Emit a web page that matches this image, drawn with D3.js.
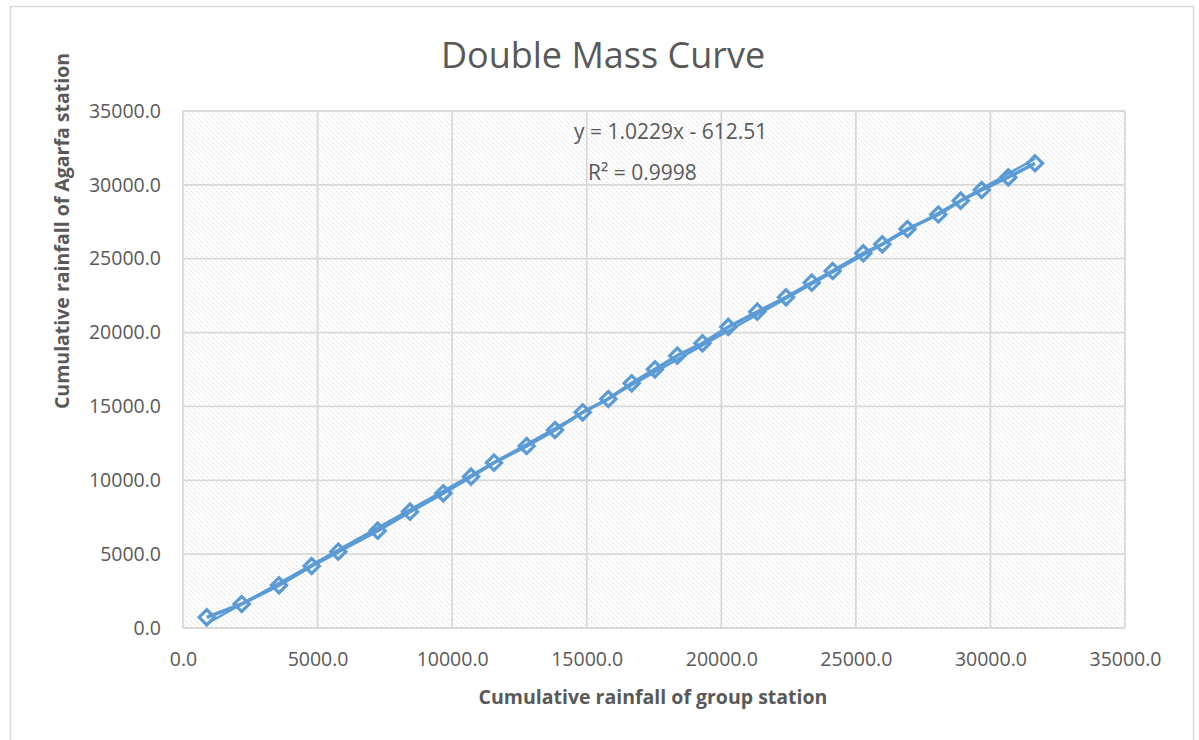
<!DOCTYPE html>
<html>
<head>
<meta charset="utf-8">
<script src="https://cdn.jsdelivr.net/npm/d3@7"></script>
<style>
  body { margin: 0; background: #fff; }
  text { font-family: "Open Sans", "Noto Sans", sans-serif; fill: #595959; }
</style>
</head>
<body>
<svg id="chart" width="1199" height="740"></svg>
<script>
// cumulative rainfall
var groupStation = [881, 2181, 3567, 4782, 5770, 7234, 8434, 9672, 10701, 11555,
  12770, 13822, 14851, 15802, 16672, 17537, 18366, 19302, 20261, 21339,
  22405, 23360, 24140, 25277, 25983, 26919, 28064, 28896, 29676, 30664, 31656];
var agarfa = [724, 1625, 2891, 4197, 5166, 6587, 7874, 9119, 10243, 11191,
  12322, 13405, 14603, 15503, 16566, 17514, 18435, 19274, 20380, 21414,
  22389, 23377, 24169, 25368, 25977, 27012, 27994, 28929, 29653, 30513, 31461];
var tickValues = [0, 5000, 10000, 15000, 20000, 25000, 30000, 35000];
var trend = { slope: 1.0229, intercept: -612.51, r2: 0.9998 };

var svg = d3.select("#chart");
var fmt = d3.format(".1f");

var plotL = 183, plotR = 1125, plotT = 111, plotB = 628;
var x = d3.scaleLinear().domain([0, 35000]).range([plotL, plotR]);
var y = d3.scaleLinear().domain([0, 35000]).range([plotB, plotT]);

// outer chart border
svg.append("rect")
  .attr("x", 10.5).attr("y", 6.5).attr("width", 1183).attr("height", 745)
  .attr("fill", "#fff").attr("stroke", "#d9d9d9").attr("stroke-width", 1.5);

// hatch fill for the plot area
var pat = svg.append("defs").append("pattern")
  .attr("id", "hatch").attr("patternUnits", "userSpaceOnUse")
  .attr("width", 5).attr("height", 5);
pat.append("rect").attr("width", 5).attr("height", 5).attr("fill", "#fff");
pat.append("path")
  .attr("d", "M-1,-1 L6,6 M-1,4 L1,6 M4,-1 L6,1")
  .attr("stroke", "#dadada").attr("stroke-width", 1)
  .attr("stroke-dasharray", "1.6,0.9");

svg.append("rect")
  .attr("x", plotL).attr("y", plotT)
  .attr("width", plotR - plotL).attr("height", plotB - plotT)
  .attr("fill", "url(#hatch)");

// gridlines
var grid = svg.append("g").attr("stroke", "#d9d9d9").attr("stroke-width", 1.8);
grid.selectAll(".gx").data(tickValues).enter().append("line")
  .attr("x1", function(d) { return x(d); }).attr("x2", function(d) { return x(d); })
  .attr("y1", plotT).attr("y2", plotB);
grid.selectAll(".gy").data(tickValues).enter().append("line")
  .attr("x1", plotL).attr("x2", plotR)
  .attr("y1", function(d) { return y(d); }).attr("y2", function(d) { return y(d); });

// axes (labels only, Excel style)
var xAxis = svg.append("g")
  .attr("transform", "translate(0," + plotB + ")")
  .call(d3.axisBottom(x).tickValues(tickValues).tickFormat(fmt).tickSize(0).tickPadding(24));
var yAxis = svg.append("g")
  .attr("transform", "translate(" + plotL + ",0)")
  .call(d3.axisLeft(y).tickValues(tickValues).tickFormat(fmt).tickSize(0).tickPadding(22));
[xAxis, yAxis].forEach(function(a) {
  a.select(".domain").remove();
  a.selectAll("text").attr("font-size", 19.5).attr("fill", "#595959")
    .attr("font-family", "'Open Sans', sans-serif");
});

// trendline from the displayed equation
var xr = d3.extent(groupStation);
svg.append("line")
  .attr("x1", x(xr[0])).attr("y1", y(trend.slope * xr[0] + trend.intercept))
  .attr("x2", x(xr[1])).attr("y2", y(trend.slope * xr[1] + trend.intercept))
  .attr("stroke", "#5b9bd5").attr("stroke-width", 2.5);

// data line and markers
var pts = groupStation.map(function(d, i) { return [d, agarfa[i]]; });
svg.append("path")
  .datum(pts)
  .attr("fill", "none").attr("stroke", "#5b9bd5").attr("stroke-width", 3.5)
  .attr("stroke-linejoin", "round")
  .attr("d", d3.line().x(function(d) { return x(d[0]); }).y(function(d) { return y(d[1]); }));

svg.append("g").selectAll("path").data(pts).enter().append("path")
  .attr("d", d3.symbol().type(d3.symbolSquare).size(115))
  .attr("transform", function(d) { return "translate(" + x(d[0]) + "," + y(d[1]) + ") rotate(45)"; })
  .attr("fill", "none").attr("stroke", "#5b9bd5").attr("stroke-width", 3.2);

// titles
svg.append("text")
  .attr("x", 603).attr("y", 68).attr("text-anchor", "middle")
  .attr("font-size", 36).text("Double Mass Curve");

svg.append("text")
  .attr("x", 653).attr("y", 704).attr("text-anchor", "middle")
  .attr("font-size", 19.5).attr("font-weight", "bold")
  .text("Cumulative rainfall of group station");

svg.append("text")
  .attr("transform", "translate(69,231) rotate(-90)").attr("text-anchor", "middle")
  .attr("font-size", 19.5).attr("font-weight", "bold")
  .text("Cumulative rainfall of Agarfa station");

// trendline label
svg.append("text")
  .attr("x", 574).attr("y", 139).attr("font-size", 21)
  .text("y = " + trend.slope + "x - " + Math.abs(trend.intercept));
svg.append("text")
  .attr("x", 588).attr("y", 180).attr("font-size", 21)
  .text("R² = " + trend.r2);
</script>
</body>
</html>
